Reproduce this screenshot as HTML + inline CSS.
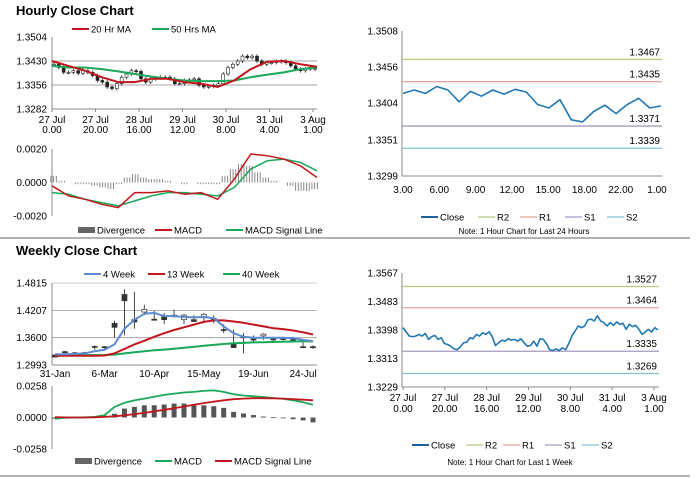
<!DOCTYPE html>
<html><head><meta charset="utf-8"><style>
html,body{margin:0;padding:0;background:#fff;}
svg{display:block;font-family:"Liberation Sans",Arial,sans-serif;}
</style></head><body>
<svg id="s" width="696" height="479" viewBox="0 0 696 479" xmlns="http://www.w3.org/2000/svg">
<text x="16" y="15" font-size="13" font-weight="bold" fill="#000">Hourly Close Chart</text>
<text x="16" y="255" font-size="13" font-weight="bold" fill="#000">Weekly Close Chart</text>
<line x1="0" y1="238" x2="690" y2="238" stroke="#999" stroke-width="1.5"/>
<line x1="0" y1="476" x2="690" y2="476" stroke="#999" stroke-width="1.5"/>
</svg>
<script>
// ---------- data ----------
const hCloses=[1.3420,1.3410,1.3395,1.3395,1.3400,1.3392,1.3400,1.3395,1.3385,1.3370,1.3365,1.3350,1.3345,1.3360,1.3380,1.3390,1.3400,1.3398,1.3375,1.3365,1.3375,1.3378,1.3380,1.3380,1.3375,1.3360,1.3360,1.3370,1.3372,1.3375,1.3355,1.3350,1.3352,1.3355,1.3360,1.3390,1.3410,1.3420,1.3430,1.3445,1.3440,1.3445,1.3430,1.3420,1.3425,1.3425,1.3428,1.3430,1.3425,1.3415,1.3405,1.3400,1.3405,1.3410,1.3405];
const hMA20=[1.3430,1.3415,1.3400,1.3380,1.3365,1.3365,1.3375,1.3375,1.3365,1.3360,1.3350,1.3370,1.3405,1.3428,1.3430,1.3420,1.3412];
const hMA50=[1.3415,1.3410,1.3410,1.3405,1.3398,1.3390,1.3382,1.3375,1.3370,1.3368,1.3368,1.3370,1.3380,1.3388,1.3395,1.3405,1.3410];
const hTicks=[1.3504,1.3430,1.3356,1.3282];
const hXLabels=[["27 Jul","0.00"],["27 Jul","20.00"],["28 Jul","16.00"],["29 Jul","12.00"],["30 Jul","8.00"],["31 Jul","4.00"],["3 Aug","1.00"]];
const hMacd=[-0.0002,-0.0008,-0.0010,-0.0013,-0.0015,-0.0006,-0.0006,-0.0005,-0.0007,-0.0006,-0.0010,0.0002,0.0017,0.0016,0.0014,0.0010,0.0003];
const hSignal=[-0.0006,-0.0007,-0.0010,-0.0012,-0.0014,-0.0011,-0.0008,-0.0006,-0.0006,-0.0007,-0.0008,-0.0003,0.0008,0.0013,0.0014,0.0012,0.0007];
const hDiv=[0.0004,0.0001,0,-0.0001,-0.0001,-0.0002,-0.0003,-0.0004,-0.0001,0.0003,0.0005,0.0003,0.0002,0.0002,0.0001,0,-0.0001,0,-0.0001,-0.0001,-0.0001,0.0004,0.0008,0.0011,0.0010,0.0006,0.0003,0.0001,0,-0.0002,-0.0005,-0.0005,-0.0004];
const hMacdTicks=[0.0020,0.0000,-0.0020];
const dClose=[1.3418,1.3423,1.3418,1.3428,1.3423,1.3406,1.3421,1.3414,1.3423,1.3417,1.3424,1.3420,1.3402,1.3397,1.3409,1.3380,1.3377,1.3392,1.3401,1.3389,1.3402,1.3411,1.3397,1.3400];
const dTicks=[1.3508,1.3456,1.3404,1.3351,1.3299];
const dXLabels=["3.00","6.00","9.00","12.00","15.00","18.00","22.00","1.00"];
const dLevels=[1.3467,1.3435,1.3371,1.3339];
const wOpen=[1.3215,1.3290,1.3265,1.3270,1.3405,1.3400,1.3920,1.4560,1.4000,1.4170,1.4010,1.4070,1.4100,1.4000,1.4000,1.4070,1.4030,1.3780,1.3450,1.3620,1.3570,1.3640,1.3580,1.3580,1.3560,1.3400,1.3400];
const wClose=[1.3170,1.3290,1.3260,1.3265,1.3400,1.3395,1.3830,1.4420,1.3950,1.4230,1.4010,1.4000,1.4090,1.4100,1.3960,1.4120,1.4020,1.3770,1.3380,1.3610,1.3570,1.3680,1.3550,1.3580,1.3560,1.3400,1.3400];
const wHigh=[1.3225,1.3310,1.3285,1.3285,1.3425,1.3410,1.3980,1.4680,1.4620,1.4330,1.4200,1.4150,1.4220,1.4130,1.4100,1.4150,1.4100,1.3900,1.3780,1.3700,1.3650,1.3700,1.3620,1.3620,1.3620,1.3500,1.3430];
const wLow=[1.3165,1.3250,1.3250,1.3250,1.3330,1.3340,1.3600,1.3650,1.3800,1.4100,1.3980,1.3900,1.4050,1.3900,1.3950,1.3950,1.3920,1.3700,1.3380,1.3250,1.3500,1.3550,1.3500,1.3540,1.3520,1.3380,1.3350];
const w4=[1.3230,1.3230,1.3240,1.3250,1.3300,1.3330,1.3450,1.3800,1.4000,1.4130,1.4150,1.4080,1.4080,1.4060,1.4050,1.4060,1.4030,1.3850,1.3700,1.3620,1.3600,1.3600,1.3600,1.3600,1.3590,1.3550,1.3520];
const w13=[1.3200,1.3200,1.3200,1.3200,1.3200,1.3205,1.3250,1.3350,1.3450,1.3530,1.3620,1.3700,1.3770,1.3830,1.3890,1.3950,1.3985,1.3985,1.3960,1.3930,1.3890,1.3850,1.3810,1.3790,1.3760,1.3720,1.3670];
const w40=[1.3222,1.3220,1.3215,1.3212,1.3212,1.3215,1.3225,1.3250,1.3275,1.3300,1.3320,1.3335,1.3355,1.3375,1.3395,1.3420,1.3440,1.3460,1.3475,1.3485,1.3495,1.3500,1.3505,1.3510,1.3515,1.3520,1.3518];
const wTicks=[1.4815,1.4207,1.3600,1.2993];
const wXLabels=["31-Jan","6-Mar","10-Apr","15-May","19-Jun","24-Jul"];
const wMacd=[-0.0010,-0.0003,0,0.0002,0.0005,0.0020,0.0087,0.0120,0.0140,0.0155,0.0170,0.0185,0.0196,0.0205,0.0210,0.0218,0.0222,0.0210,0.0190,0.0180,0.0174,0.0168,0.0160,0.0152,0.0141,0.0125,0.0103];
const wSignal=[0.0003,0.0001,0,0,0.0002,0.0005,0.0010,0.0018,0.0028,0.0038,0.0050,0.0063,0.0075,0.0090,0.0105,0.0118,0.0130,0.0141,0.0150,0.0155,0.0158,0.0158,0.0157,0.0155,0.0150,0.0146,0.0141];
const wDiv=[-0.0010,0,0,0,0.0003,0.0015,0.0030,0.0073,0.0087,0.0100,0.0100,0.0106,0.0114,0.0114,0.0106,0.0100,0.0092,0.0079,0.0046,0.0033,0.0020,0.0008,0.0002,-0.0005,-0.0014,-0.0024,-0.0040];
const wMacdTicks=[0.0258,0.0000,-0.0258];
const kClose=[1.3405,1.3392,1.3380,1.3378,1.3380,1.3385,1.3380,1.3388,1.3370,1.3378,1.3382,1.3370,1.3375,1.3358,1.3355,1.3350,1.3342,1.3340,1.3348,1.3360,1.3362,1.3375,1.3372,1.3385,1.3380,1.3390,1.3385,1.3393,1.3378,1.3352,1.3360,1.3368,1.3365,1.3372,1.3368,1.3370,1.3365,1.3372,1.3360,1.3350,1.3352,1.3365,1.3350,1.3372,1.3370,1.3358,1.3340,1.3337,1.3342,1.3337,1.3345,1.3340,1.3358,1.3380,1.3395,1.3410,1.3405,1.3410,1.3428,1.3430,1.3425,1.3440,1.3425,1.3420,1.3410,1.3420,1.3412,1.3422,1.3415,1.3418,1.3400,1.3415,1.3408,1.3412,1.3400,1.3385,1.3392,1.3400,1.3392,1.3405,1.3398];
const kTicks=[1.3567,1.3483,1.3398,1.3313,1.3229];
const kXLabels=[["27 Jul","0.00"],["27 Jul","20.00"],["28 Jul","16.00"],["29 Jul","12.00"],["30 Jul","8.00"],["31 Jul","4.00"],["3 Aug","1.00"]];
const kLevels=[1.3527,1.3464,1.3335,1.3269];
// ---------- helpers ----------
const S=document.getElementById('s');
const NS='http://www.w3.org/2000/svg';
function mk(tag,attrs,parent){const e=document.createElementNS(NS,tag);for(const k in attrs)e.setAttribute(k,attrs[k]);(parent||S).appendChild(e);return e;}
function txt(x,y,t,anchor,size){const e=mk('text',{x:x,y:y,'font-size':size||10,'text-anchor':anchor||'start',fill:'#000'});e.textContent=t;return e;}
function lin(x0,x1,v0,v1,y0,y1){return v=>y0+(v-v0)/(v1-v0)*(y1-y0);}
function poly(vals,xf,yf,color,w){const e=mk('polyline',{points:vals.map((v,i)=>xf(i).toFixed(1)+','+yf(v).toFixed(1)).join(' '),fill:'none',stroke:color,'stroke-width':w||2,'stroke-linejoin':'round'});return e;}
function legend(items,y){items.forEach(it=>{let e;if(it.bar){e=mk('rect',{x:it.x,y:y-3,width:17,height:6,fill:'#666'});}else{e=mk('line',{x1:it.x,y1:y,x2:it.x+17,y2:y,stroke:it.c,'stroke-width':it.w||2});}


const t=txt(it.x+19,y+3.5,it.t,'start',9.5);

});}
// ---------- hourly candle panel ----------
(function(){
const X0=52,X1=317;
const y=lin(0,0,1.3504,1.3282,37,109);
hTicks.forEach((v,i)=>{if(i>0&&i<hTicks.length-1){const g=mk('line',{x1:X0,y1:y(v),x2:X1,y2:y(v),stroke:'#888','stroke-width':0.8});}
const t=txt(X0-5,y(v)+3.5,v.toFixed(4),'end');});
const ax=mk('line',{x1:X0,y1:37,x2:X0,y2:109,stroke:'#888'});
const bx=mk('line',{x1:X0,y1:109,x2:X1,y2:109,stroke:'#888'});
hXLabels.forEach((l,i)=>{const x=X0+i*(X1-4-X0)/(hXLabels.length-1);mk('line',{x1:x,y1:109,x2:x,y2:112,stroke:'#888'});const a=txt(x,123,l[0],'middle');const b=txt(x,133,l[1],'middle');});
const cx=i=>X0+2+i*(X1-X0-4)/(hCloses.length-1);
hCloses.forEach((c,i)=>{const o=i?hCloses[i-1]:c;const hi=Math.max(o,c)+0.0006,lo=Math.min(o,c)-0.0006;
const w=mk('line',{x1:cx(i),y1:y(hi),x2:cx(i),y2:y(lo),stroke:'#222','stroke-width':0.8});
const r=mk('rect',{x:cx(i)-1.5,y:y(Math.max(o,c)),width:3,height:Math.max(1,Math.abs(y(o)-y(c))),fill:c>=o?'#fff':'#222',stroke:'#222','stroke-width':0.6});});
const mx=i=>X0+i*(X1-X0)/(hMA20.length-1);
const a=poly(hMA50,mx,y,'#1aa85a',2);
const b=poly(hMA20,mx,y,'#c0161c',2);
legend([{x:72,c:'#c0161c',t:'20 Hr MA',n:'20hr-ma'},{x:152,c:'#1aa85a',t:'50 Hrs MA',n:'50hrs-ma'}],29);
})();
// ---------- hourly MACD ----------
(function(){
const X0=52,X1=317;
const y=lin(0,0,0.0020,-0.0020,149,216);
hMacdTicks.forEach(v=>{const t=txt(X0-5,y(v)+3.5,v.toFixed(4),'end');});
const ax=mk('line',{x1:X0,y1:149,x2:X0,y2:216,stroke:'#888'});
const dx=i=>X0+2+i*(X1-X0-4)/(hDiv.length-1);
const step=(X1-X0-4)/(hDiv.length-1);
hDiv.forEach((v,i)=>{for(let k=0;k<3;k++){const x=dx(i)-step/2+k*step/3+1;const r=mk('line',{x1:x,y1:y(0),x2:x,y2:y(v),stroke:'#888','stroke-width':1});}});
const mx=i=>X0+i*(X1-X0)/(hMacd.length-1);
const g=poly(hSignal,mx,y,'#1aa85a',1.5);
const r=poly(hMacd,mx,y,'#c0161c',1.5);
legend([{x:78,bar:1,t:'Divergence',n:'h-divergence'},{x:155,c:'#c0161c',t:'MACD',n:'h-macd'},{x:226,c:'#1aa85a',t:'MACD Signal Line',n:'h-signal'}],230);
})();
// ---------- right line charts ----------
function levelChart(pre,vals,ticks,levels,yTop,yBot,X0,X1,xlabels,twoLine,labY,legY,note){
const y=lin(0,0,ticks[0],ticks[ticks.length-1],yTop,yBot);
ticks.forEach(v=>{const t=txt(X0-4,y(v)+3.5,v.toFixed(4),'end');});
const ax=mk('line',{x1:X0,y1:yTop,x2:X0,y2:yBot,stroke:'#888'});
const bx=mk('line',{x1:X0,y1:yBot,x2:X1,y2:yBot,stroke:'#888'});
const cols=['#b5cc7f','#e6a09b','#a898c0','#7fc4cc'];const names=['r2','r1','s1','s2'];
levels.forEach((v,i)=>{const l=mk('line',{x1:X0,y1:y(v),x2:X1,y2:y(v),stroke:cols[i],'stroke-width':1.3});
const t=txt(X1-2,y(v)-4,v.toFixed(4),'end');});
const n=xlabels.length;
xlabels.forEach((l,i)=>{const x=X0+1+i*(X1-X0-6)/(n-1);
if(twoLine){mk('line',{x1:x,y1:yBot,x2:x,y2:yBot+3,stroke:'#888'});const a=txt(x,labY,l[0],'middle');const b=txt(x,labY+11,l[1],'middle');}
else{const a=txt(x,labY,l,'middle');}});
const cx=i=>X0+1+i*(X1-X0-2)/(vals.length-1);
const p=poly(vals,cx,y,'#1f78b4',1.6);
return y;}
levelChart('d',dClose,dTicks,dLevels,31,176,402,662,dXLabels,false,193,217);
legend([{x:421,c:'#1f5fa0',t:'Close',n:'d-close'},{x:478,c:'#b5cc7f',t:'R2',n:'d-r2',w:1.3},{x:520,c:'#e6a09b',t:'R1',n:'d-r1',w:1.3},{x:565,c:'#a898c0',t:'S1',n:'d-s1',w:1.3},{x:607,c:'#7fc4cc',t:'S2',n:'d-s2',w:1.3}],217);
(function(){const t=txt(524,234,'Note: 1 Hour Chart for Last 24 Hours','middle',8);})();
levelChart('k',kClose,kTicks,kLevels,273,387,402,659,kXLabels,true,401,445);
legend([{x:412,c:'#1f5fa0',t:'Close',n:'k-close'},{x:466,c:'#b5cc7f',t:'R2',n:'k-r2',w:1.3},{x:503,c:'#e6a09b',t:'R1',n:'k-r1',w:1.3},{x:545,c:'#a898c0',t:'S1',n:'k-s1',w:1.3},{x:582,c:'#7fc4cc',t:'S2',n:'k-s2',w:1.3}],445);
(function(){const t=txt(510,465,'Note: 1 Hour Chart for  Last 1 Week','middle',8);})();
// ---------- weekly candle panel ----------
(function(){
const X0=52,X1=317;
const y=lin(0,0,1.4815,1.2993,283,365);
wTicks.forEach((v,i)=>{if(i>0&&i<wTicks.length-1){const g=mk('line',{x1:X0,y1:y(v),x2:X1,y2:y(v),stroke:'#999','stroke-width':0.8});}
if(i==0){mk('line',{x1:X0,y1:y(v),x2:X1,y2:y(v),stroke:'#bbb','stroke-width':0.8});}
const t=txt(X0-5,y(v)+3.5,v.toFixed(4),'end');});
const ax=mk('line',{x1:X0,y1:283,x2:X0,y2:365,stroke:'#888'});
const bx=mk('line',{x1:X0,y1:365,x2:X1,y2:365,stroke:'#888'});
const cx=i=>55+i*(313-55)/(wClose.length-1);
wXLabels.forEach((l,i)=>{const x=cx(i*5);const t=txt(x,377,l,'middle');});
wClose.forEach((c,i)=>{const o=wOpen[i];
const w=mk('line',{x1:cx(i),y1:y(wHigh[i]),x2:cx(i),y2:y(wLow[i]),stroke:'#333','stroke-width':0.9});
const r=mk('rect',{x:cx(i)-2.5,y:y(Math.max(o,c)),width:5,height:Math.max(1,Math.abs(y(o)-y(c))),fill:c>o?'#fff':'#333',stroke:'#333','stroke-width':0.7});});
const g=poly(w40,cx,y,'#1aa85a',2);
const r=poly(w13,cx,y,'#c0161c',2);
const b=poly(w4,cx,y,'#5b8bd0',2);
legend([{x:84,c:'#5b8bd0',t:'4 Week',n:'4-week'},{x:148,c:'#c0161c',t:'13 Week',n:'13-week'},{x:223,c:'#1aa85a',t:'40 Week',n:'40-week'}],274);
})();
// ---------- weekly MACD ----------
(function(){
const X0=52,X1=317;
const y=lin(0,0,0.0258,-0.0258,386,449);
wMacdTicks.forEach(v=>{const t=txt(X0-5,y(v)+3.5,v.toFixed(4),'end');});
const ax=mk('line',{x1:X0,y1:386,x2:X0,y2:449,stroke:'#888'});
const cx=i=>55+i*(313-55)/(wDiv.length-1);
wDiv.forEach((v,i)=>{const r=mk('rect',{x:cx(i)-2.5,y:Math.min(y(0),y(v)),width:5,height:Math.max(0.8,Math.abs(y(v)-y(0))),fill:'#555'});});
const g=poly(wMacd,cx,y,'#1aa85a',1.8);
const r=poly(wSignal,cx,y,'#c0161c',1.8);
legend([{x:75,bar:1,t:'Divergence',n:'w-divergence'},{x:155,c:'#1aa85a',t:'MACD',n:'w-macd'},{x:215,c:'#c0161c',t:'MACD Signal Line',n:'w-signal'}],461);
})();
</script>
</body></html>
